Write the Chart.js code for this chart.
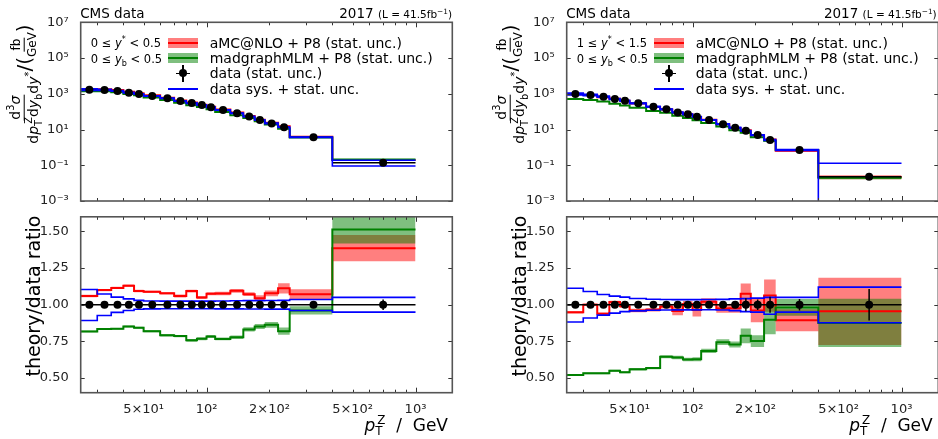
<!DOCTYPE html>
<html>
<head>
<meta charset="utf-8">
<title>Z pT differential cross sections, 2017</title>
<script src="https://cdn.jsdelivr.net/npm/chart.js@4.4.1/dist/chart.umd.min.js"></script>
<style>
  html, body { margin: 0; padding: 0; background: #fff; }
  body { position: relative; width: 938px; height: 439px; overflow: hidden; font-family: 'DejaVu Sans', sans-serif; color: #000; }
  canvas { position: absolute; }
  .t { position: absolute; white-space: nowrap; line-height: 20px; height: 20px; }
  .rot { position: absolute; white-space: nowrap; transform: translate(-50%, -50%) rotate(-90deg); }
  .frac { display: inline-flex; flex-direction: column; align-items: center; vertical-align: middle; }
  .frac > span { display: block; line-height: 1.2; }
  .frac > span:first-child { border-bottom: 1.2px solid #000; padding: 0 1px; }
  sub, sup { font-size: 70%; line-height: 0; }
  .sw { position: absolute; }
</style>
</head>
<body>
<canvas id="topL" width="470" height="213" style="left:0;top:0"></canvas>
<canvas id="ratioL" width="470" height="234" style="left:0;top:205px"></canvas>
<canvas id="topR" width="470" height="213" style="left:486px;top:0"></canvas>
<canvas id="ratioR" width="470" height="234" style="left:486px;top:205px"></canvas>
<div id="labels"></div>
<script>
// ---- binning and axis ticks ----
const binEdges = [25, 30, 35, 40, 45, 50, 60, 70, 80, 90, 100, 110, 130, 150, 170, 190, 220, 250, 400, 1000];

const xTickValues = [30, 40, 50, 60, 70, 80, 90, 100, 200, 300, 400, 500, 600, 700, 800, 900, 1000];
const xMajorTicks = [100, 1000];
const xTickLabels = ['', '', '5×10¹', '', '', '', '', '10²', '2×10²', '', '', '5×10²', '', '', '', '', '10³'];
const xsecTicks = [1e-3, 1e-1, 1e1, 1e3, 1e5, 1e7];
const xsecTickLabels = ['10⁻³', '10⁻¹', '10¹', '10³', '10⁵', '10⁷'];
const ratioTicks = [0.5, 0.75, 1.0, 1.25, 1.5];
const ratioTickLabels = ['0.50', '0.75', '1.00', '1.25', '1.50'];

// ---- 0 <= y* < 0.5, 0 <= yb < 0.5 ----
const xsecL = [1700, 1650, 1450, 1150, 980, 760, 560, 400, 300, 235, 175, 123, 81, 53, 34, 22, 13.5, 3.7, 0.14];
const statL = [0.004, 0.004, 0.004, 0.004, 0.004, 0.004, 0.004, 0.005, 0.005, 0.006, 0.006, 0.006, 0.007, 0.008, 0.009, 0.01, 0.012, 0.012, 0.036];
const totL = [0.105, 0.074, 0.052, 0.04, 0.03, 0.027, 0.026, 0.026, 0.026, 0.026, 0.026, 0.027, 0.027, 0.028, 0.028, 0.03, 0.03, 0.038, 0.35];
const amcL = [1.06, 1.10, 1.115, 1.13, 1.094, 1.088, 1.078, 1.06, 1.093, 1.05, 1.075, 1.076, 1.095, 1.072, 1.045, 1.078, 1.112, 1.072, 1.386];
const amcErrL = [0.008, 0.008, 0.008, 0.008, 0.008, 0.008, 0.008, 0.01, 0.01, 0.01, 0.01, 0.012, 0.013, 0.013, 0.02, 0.02, 0.035, 0.034, 0.09];
const mgL = [0.818, 0.834, 0.836, 0.852, 0.843, 0.82, 0.792, 0.786, 0.757, 0.768, 0.784, 0.767, 0.779, 0.832, 0.852, 0.863, 0.82, 0.961, 1.513];
const mgErrL = [0.006, 0.006, 0.006, 0.007, 0.007, 0.007, 0.008, 0.008, 0.009, 0.01, 0.01, 0.01, 0.012, 0.015, 0.017, 0.02, 0.025, 0.028, 0.095];
const sysUpL = [1.104, 1.073, 1.052, 1.04, 1.03, 1.026, 1.025, 1.025, 1.025, 1.025, 1.025, 1.026, 1.027, 1.028, 1.028, 1.029, 1.03, 1.036, 1.05];
const sysDnL = [0.893, 0.927, 0.948, 0.961, 0.969, 0.972, 0.973, 0.973, 0.973, 0.973, 0.973, 0.972, 0.972, 0.971, 0.971, 0.97, 0.97, 0.961, 0.95];

// ---- 1 <= y* < 1.5, 0 <= yb < 0.5 ----
const xsecR = [980, 850, 690, 510, 410, 295, 190, 135, 91, 71, 52, 34, 20, 12.6, 8.5, 4.9, 2.6, 0.72, 0.023];
const statR = [0.005, 0.005, 0.006, 0.006, 0.007, 0.007, 0.008, 0.009, 0.01, 0.011, 0.012, 0.013, 0.015, 0.02, 0.045, 0.036, 0.055, 0.04, 0.108];
const totR = [0.115, 0.09, 0.07, 0.058, 0.05, 0.043, 0.038, 0.036, 0.035, 0.035, 0.035, 0.035, 0.037, 0.04, 0.045, 0.048, 0.058, 0.05, 4.6];
const amcR = [0.948, 1.0, 0.939, 1.018, 0.99, 0.961, 0.966, 0.988, 0.958, 1.005, 0.964, 1.02, 0.975, 0.976, 1.075, 0.961, 1.063, 0.895, 0.955];
const amcErrR = [0.008, 0.008, 0.008, 0.01, 0.01, 0.012, 0.012, 0.013, 0.03, 0.02, 0.045, 0.025, 0.03, 0.03, 0.07, 0.08, 0.11, 0.075, 0.23];
const mgR = [0.52, 0.532, 0.532, 0.55, 0.54, 0.56, 0.568, 0.645, 0.64, 0.627, 0.628, 0.685, 0.745, 0.729, 0.788, 0.752, 0.898, 0.982, 0.876];
const mgErrR = [0.006, 0.006, 0.006, 0.007, 0.007, 0.008, 0.008, 0.01, 0.012, 0.012, 0.013, 0.015, 0.02, 0.02, 0.05, 0.04, 0.1, 0.057, 0.165];
const sysUpR = [1.113, 1.09, 1.07, 1.059, 1.052, 1.043, 1.038, 1.036, 1.035, 1.035, 1.035, 1.036, 1.037, 1.04, 1.042, 1.045, 1.05, 1.05, 1.12];
const sysDnR = [0.882, 0.91, 0.929, 0.943, 0.953, 0.958, 0.962, 0.964, 0.965, 0.965, 0.965, 0.966, 0.964, 0.96, 0.953, 0.95, 0.935, 0.95, 0.877];

const FONT = "'DejaVu Sans', sans-serif";
const RED = '#ff0000', RED_BAND = 'rgba(255,0,0,0.5)';
const GREEN = '#008000', GREEN_BAND = 'rgba(0,128,0,0.5)';
const BLUE = '#0000ff';
const XSEC_MIN = 1e-3;

const centres = binEdges.slice(0, -1).map((lo, i) => (lo + binEdges[i + 1]) / 2);

// histogram points: one point per lower edge plus the last upper edge
function stepData(vals) {
    const pts = vals.map((v, i) => ({ x: binEdges[i], y: v }));
    pts.push({ x: binEdges[vals.length], y: vals[vals.length - 1] });
    return pts;
}

function stepLine(vals, color, width, order) {
    return { data: stepData(vals), stepped: 'before', borderColor: color, borderWidth: width,
             pointRadius: 0, fill: false, order };
}

// filled band between two step curves (upper fills to the next dataset)
function band(lo, hi, color, order) {
    const common = { stepped: 'before', borderColor: 'rgba(0,0,0,0)', borderWidth: 1, pointRadius: 0, order };
    return [
        { ...common, data: stepData(hi), backgroundColor: color, fill: '+1' },
        { ...common, data: stepData(lo), fill: false },
    ];
}

function xErrData(vals) {
    const pts = [];
    vals.forEach((v, i) => pts.push({ x: binEdges[i], y: v }, { x: binEdges[i + 1], y: v }, { x: binEdges[i + 1], y: null }));
    return pts;
}

function yErrData(vals, errs) {
    const pts = [];
    vals.forEach((v, i) => pts.push({ x: centres[i], y: v - errs[i] }, { x: centres[i], y: v + errs[i] }, { x: centres[i], y: null }));
    return pts;
}

// norm = per-bin scale (cross section for the upper panel, 1 for the ratio)
function panelDatasets(norm, p, up, dn) {
    const s = (arr) => arr.map((v, i) => v * norm[i]);
    const amc = s(p.amc), mg = s(p.mg);
    const amcErr = s(p.amcErr), mgErr = s(p.mgErr);
    const centre = norm.slice();
    const stat = s(p.stat);
    return [
        ...band(amc.map((v, i) => v - amcErr[i]), amc.map((v, i) => v + amcErr[i]), RED_BAND, 9),
        ...band(mg.map((v, i) => v - mgErr[i]), mg.map((v, i) => v + mgErr[i]), GREEN_BAND, 8),
        stepLine(amc, RED, 2, 7),
        stepLine(mg, GREEN, 2, 6),
        { data: xErrData(centre), borderColor: '#000', borderWidth: 1.5, pointRadius: 0, fill: false, order: 5 },
        stepLine(up, BLUE, 1.6, 4),
        stepLine(dn, BLUE, 1.6, 4),
        { data: yErrData(centre, stat), borderColor: '#000', borderWidth: 1.5, pointRadius: 0, fill: false, order: 2 },
        { data: centres.map((c, i) => ({ x: c, y: centre[i] })), showLine: false, pointRadius: 4,
          pointBackgroundColor: '#000', pointBorderWidth: 0, order: 1 },
    ];
}

// inward tick marks on all four sides plus the axes frame
const frameTicks = {
    id: 'frameTicks',
    afterDatasetsDraw(chart) {
        const { ctx, chartArea: a, scales: { x, y } } = chart;
        ctx.save();
        ctx.strokeStyle = '#333';
        ctx.lineWidth = 1;
        ctx.beginPath();
        x.ticks.forEach(t => {
            const px = Math.round(x.getPixelForValue(t.value)) + 0.5;
            const len = t.major ? 5 : 3;
            ctx.moveTo(px, a.bottom); ctx.lineTo(px, a.bottom - len);
            ctx.moveTo(px, a.top); ctx.lineTo(px, a.top + len);
        });
        y.ticks.forEach(t => {
            const py = Math.round(y.getPixelForValue(t.value)) + 0.5;
            ctx.moveTo(a.left, py); ctx.lineTo(a.left + 4, py);
            ctx.moveTo(a.right, py); ctx.lineTo(a.right - 4, py);
        });
        ctx.stroke();
        ctx.strokeStyle = '#555';
        ctx.lineWidth = 1.6;
        ctx.strokeRect(a.left, a.top, a.width, a.height);
        ctx.restore();
    }
};

function xAxis(showLabels, height) {
    return {
        type: 'logarithmic', min: 25, max: 1500, bounds: 'data',
        afterBuildTicks: s => { s.ticks = xTickValues.map(v => ({ value: v, major: xMajorTicks.includes(v) })); },
        afterFit: s => { s.height = height; },
        grid: { display: false }, border: { display: false },
        ticks: { display: showLabels, autoSkip: false, maxRotation: 0, minRotation: 0, padding: 1, color: '#222',
                 font: { family: FONT, size: 13 }, callback: (v, i) => xTickLabels[i] },
    };
}

function yAxis(cfg) {
    return {
        ...cfg,
        afterFit: s => { s.width = 80.7; },
        grid: { display: false }, border: { display: false },
        ticks: { autoSkip: false, padding: 4, color: '#222', font: { family: FONT, size: 13 }, callback: cfg.labelFn },
    };
}

function makeChart(id, datasets, xCfg, yCfg, padTop) {
    return new Chart(document.getElementById(id), {
        type: 'line',
        data: { datasets },
        options: {
            responsive: false, animation: false, events: [],
            layout: { padding: { top: padTop, right: 17.7, left: 0, bottom: 0 } },
            plugins: { legend: { display: false }, tooltip: { enabled: false } },
            scales: { x: xCfg, y: yCfg },
        },
        plugins: [frameTicks],
    });
}

const xsecY = yAxis({
    type: 'logarithmic', min: XSEC_MIN, max: 1e7, bounds: 'data',
    afterBuildTicks: s => { s.ticks = xsecTicks.map(v => ({ value: v, major: true })); },
    labelFn: (v, i) => xsecTickLabels[i],
});
const ratioY = yAxis({
    type: 'linear', min: 0.4, max: 1.6,
    afterBuildTicks: s => { s.ticks = ratioTicks.map(v => ({ value: v })); },
    labelFn: (v, i) => ratioTickLabels[i],
});

const ones = binEdges.slice(1).map(() => 1);
const panels = [
    { top: 'topL', ratio: 'ratioL', xsec: xsecL, stat: statL, tot: totL, amc: amcL, amcErr: amcErrL, mg: mgL, mgErr: mgErrL, up: sysUpL, dn: sysDnL },
    { top: 'topR', ratio: 'ratioR', xsec: xsecR, stat: statR, tot: totR, amc: amcR, amcErr: amcErrR, mg: mgR, mgErr: mgErrR, up: sysUpR, dn: sysDnR },
];

panels.forEach(p => {
    const up = p.xsec.map((v, i) => v * (1 + p.tot[i]));
    const dn = p.xsec.map((v, i) => Math.max(v * (1 - p.tot[i]), XSEC_MIN / 10));
    makeChart(p.top, panelDatasets(p.xsec, p, up, dn), xAxis(false, 12), xsecY, 22.3);
    makeChart(p.ratio, panelDatasets(ones, p, p.up, p.dn), xAxis(true, 46.3), ratioY, 10.7);
});

// ---- text: headers, axis titles, legends ----
function panelText(ax, axRight, yStarText) {
    const sw = ax + 87.5;
    return `
<div class="t" style="left:${ax - 0.5}px;top:3px;font-size:13.5px">CMS data</div>
<div class="t" style="right:${938 - axRight}px;top:3px;font-size:13.5px">2017 <span style="font-size:10.5px">(L = 41.5fb<sup>−1</sup>)</span></div>
<div class="rot" style="left:${ax - 57}px;top:84px;font-size:14px">
  <span class="frac"><span>d<sup>3</sup><i>σ</i></span><span>d<i>p</i><sub>T</sub><sup style="margin-left:-0.4em">Z</sup>d<i>y</i><sub>b</sub>d<i>y</i><sup>*</sup></span></span><span style="font-size:20px;vertical-align:middle">/(</span><span class="frac" style="font-size:12px"><span>fb</span><span>GeV</span></span><span style="font-size:20px;vertical-align:middle">)</span>
</div>
<div class="rot" style="left:${ax - 48}px;top:296px;font-size:19px">theory/data ratio</div>
<div class="t" style="right:${938 - axRight + 4}px;top:415px;font-size:17px"><i>p</i><sub>T</sub><sup style="margin-left:-0.45em">Z</sup>&nbsp;&nbsp;/&nbsp;&nbsp;GeV</div>
<div class="t" style="left:${ax + 10}px;width:70px;text-align:right;top:33.3px;font-size:11.5px">${yStarText}</div>
<div class="t" style="left:${ax + 10}px;width:70px;text-align:right;top:49px;font-size:11.5px">0 ≤ <i>y</i><sub>b</sub> &lt; 0.5</div>
<div class="sw" style="left:${sw}px;top:38.3px;width:30px;height:10px;background:${RED_BAND}"></div>
<div class="sw" style="left:${sw}px;top:42.3px;width:30px;height:2px;background:${RED}"></div>
<div class="sw" style="left:${sw}px;top:53.3px;width:30px;height:10px;background:${GREEN_BAND}"></div>
<div class="sw" style="left:${sw}px;top:57.3px;width:30px;height:2px;background:${GREEN}"></div>
<div class="sw" style="left:${sw + 14.2}px;top:64.8px;width:1.6px;height:17px;background:#000"></div>
<div class="sw" style="left:${sw + 8}px;top:72.5px;width:14px;height:1.6px;background:#000"></div>
<div class="sw" style="left:${sw + 11}px;top:69.3px;width:8px;height:8px;border-radius:50%;background:#000"></div>
<div class="sw" style="left:${sw}px;top:88px;width:30px;height:2px;background:${BLUE}"></div>
<div class="t" style="left:${ax + 129}px;top:33.3px;font-size:14px">aMC@NLO + P8 (stat. unc.)</div>
<div class="t" style="left:${ax + 129}px;top:48.3px;font-size:14px">madgraphMLM + P8 (stat. unc.)</div>
<div class="t" style="left:${ax + 129}px;top:63.3px;font-size:14px">data (stat. unc.)</div>
<div class="t" style="left:${ax + 129}px;top:79px;font-size:14px">data sys. + stat. unc.</div>`;
}

document.getElementById('labels').innerHTML =
    panelText(80.7, 452, '0 ≤ <i>y</i><sup>*</sup> &lt; 0.5') +
    panelText(566.7, 936.7, '1 ≤ <i>y</i><sup>*</sup> &lt; 1.5');
</script>
</body>
</html>
